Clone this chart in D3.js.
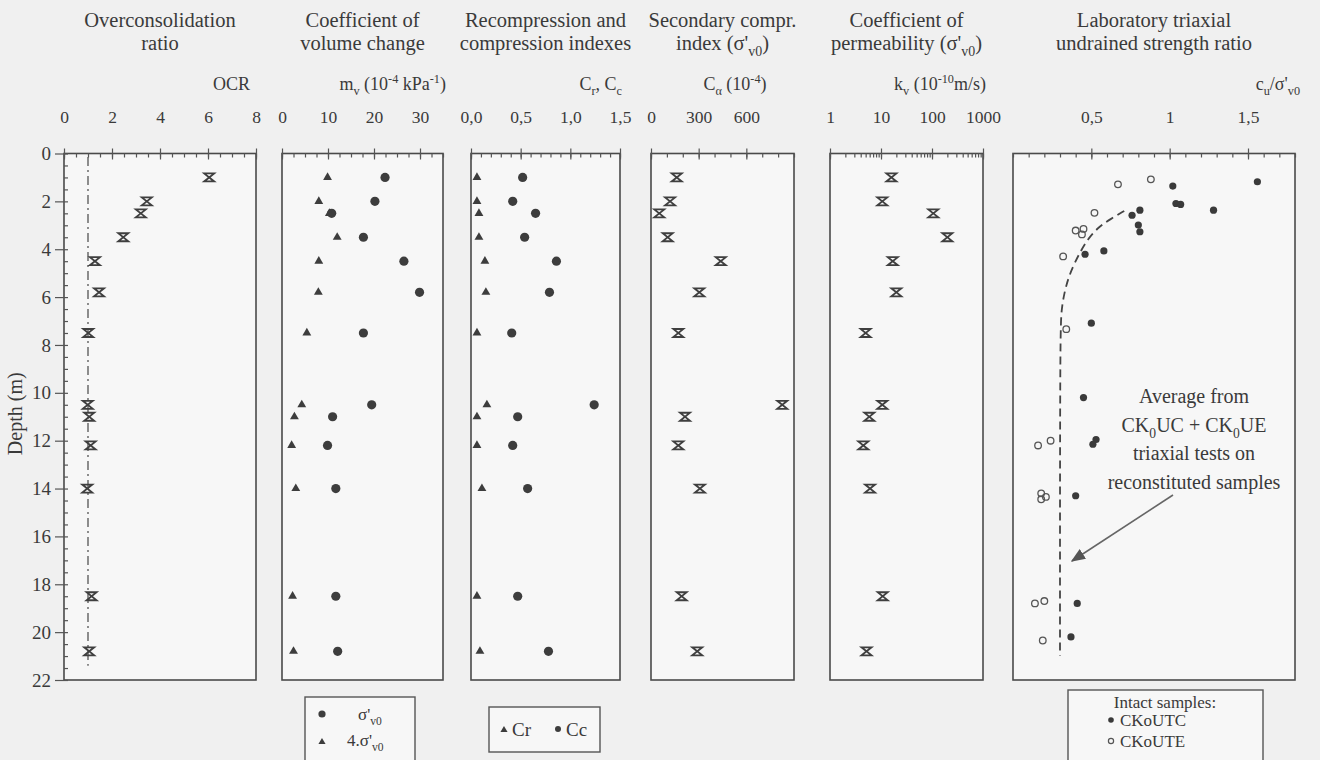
<!DOCTYPE html>
<html lang="en">
<head>
    <meta charset="UTF-8">
    <title>Soil profile</title>
    <script src="https://d3js.org/d3.v7.min.js"></script>
    <style>
        body {
            margin: 0;
            overflow: hidden;
            background-color: #f0f0f0;
        }
        svg text {
            font-family: "Liberation Serif", "Times New Roman", serif;
            fill: #3a3a3a;
        }
        .frame {
            fill: #f7f7f7;
            stroke: #4a4a4a;
            stroke-width: 1.6px;
        }
        .axis path { display: none; }
        .axis line { stroke: #555; stroke-width: 1.2px; }
        .mark { stroke: #3f3f3f; fill: none; stroke-width: 1.8px; }
    </style>
</head>
<body>
    <svg width="1320" height="760"></svg>
    <script>
        // depths (m) shared by the oedometer / index test samples
        const depths = [1.0, 2.0, 2.5, 3.5, 4.5, 5.8, 7.5, 10.5, 11.0, 12.2, 14.0, 18.5, 20.8];
        const ocr = [6.05, 3.45, 3.2, 2.47, 1.29, 1.46, 1.01, 0.99, 1.05, 1.11, 0.97, 1.15, 1.05];
        const mvSigma = [22.4, 20.2, 10.8, 17.7, 26.5, 29.9, 17.7, 19.5, 11.0, 9.9, 11.7, 11.7, 12.1];
        const mv4Sigma = [9.9, 8.0, 10.3, 12.0, 8.0, 7.9, 5.4, 4.3, 2.7, 2.1, 3.0, 2.3, 2.5];
        const cr = [0.06, 0.06, 0.08, 0.08, 0.14, 0.15, 0.06, 0.16, 0.06, 0.06, 0.11, 0.06, 0.09];
        const cc = [0.52, 0.42, 0.65, 0.54, 0.86, 0.79, 0.41, 1.24, 0.47, 0.42, 0.57, 0.47, 0.78];
        const calpha = [162, 120, 52, 105, 439, 304, 172, 826, 214, 172, 308, 193, 291];
        const kv = [16, 10.6, 106, 200, 17, 20, 5.0, 10.6, 5.9, 4.5, 6.1, 10.8, 5.2];

        // triaxial tests on intact samples
        const utcDepth = [1.18, 1.36, 2.09, 2.13, 2.37, 2.37, 2.58, 2.99, 3.27, 4.07, 4.21, 7.09, 10.2, 11.95, 12.15, 14.3, 18.8, 20.2];
        const utcRatio = [1.56, 1.02, 1.04, 1.07, 1.28, 0.81, 0.76, 0.80, 0.81, 0.58, 0.46, 0.50, 0.45, 0.53, 0.51, 0.40, 0.41, 0.37];
        const uteDepth = [1.08, 1.29, 2.48, 3.15, 3.22, 3.38, 4.3, 7.34, 12.0, 12.2, 14.2, 14.35, 14.45, 18.7, 18.8, 20.35];
        const uteRatio = [0.88, 0.67, 0.52, 0.45, 0.40, 0.44, 0.32, 0.34, 0.24, 0.16, 0.18, 0.21, 0.18, 0.20, 0.14, 0.19];
        // average from reconstituted samples
        const avgRatio = [0.71, 0.62, 0.55, 0.48, 0.43, 0.38, 0.34, 0.31, 0.30, 0.30];
        const avgDepth = [2.4, 2.75, 3.05, 3.55, 4.1, 4.75, 5.45, 6.4, 7.5, 21.0];
        const ocrLine = [[1, 0.15], [1, 21.4]];

        const depthTicks = d3.range(0, 23, 2);

        const svg = d3.select("svg");
        const y = d3.scaleLinear().domain([0, 22]).range([153.5, 680]);
        const comma = d => String(d).replace(".", ",");

        // append text made of [string, "sub"|"sup"|""] parts
        function rich(sel, parts, size) {
            let off = 0;
            parts.forEach(([s, k]) => {
                const target = k === "sub" ? size * 0.3 : k === "sup" ? -size * 0.4 : 0;
                sel.append("tspan")
                    .attr("dy", target - off)
                    .attr("font-size", k ? size * 0.68 : size)
                    .text(s);
                off = target;
            });
            return sel;
        }

        const panels = [
            { x0: 64, x1: 256, scale: d3.scaleLinear().domain([0, 8]), labels: [0, 2, 4, 6, 8], minor: d3.range(0, 8.01, 0.5), fmt: d => d,
              title: [[["Overconsolidation", ""]], [["ratio", ""]]], unit: [["OCR", ""]], unitX: 250, anchor: "end" },
            { x0: 282, x1: 443, scale: d3.scaleLinear().domain([0, 35]), labels: [0, 10, 20, 30], minor: d3.range(0, 35.1, 2.5), fmt: d => d,
              title: [[["Coefficient of", ""]], [["volume change", ""]]],
              unit: [["m", ""], ["v", "sub"], [" (10", ""], ["-4", "sup"], [" kPa", ""], ["-1", "sup"], [")", ""]], unitX: 446, anchor: "end" },
            { x0: 471, x1: 620, scale: d3.scaleLinear().domain([0, 1.5]), labels: [0, 0.5, 1, 1.5], minor: d3.range(0, 1.51, 0.1), fmt: d => d3.format(".1f")(d).replace(".", ","),
              title: [[["Recompression and", ""]], [["compression indexes", ""]]],
              unit: [["C", ""], ["r", "sub"], [", C", ""], ["c", "sub"]], unitX: 622, anchor: "end" },
            { x0: 651, x1: 794, scale: d3.scaleLinear().domain([0, 900]), labels: [0, 300, 600], minor: d3.range(0, 901, 100), fmt: d => d,
              title: [[["Secondary compr.", ""]], [["index (σ'", ""], ["v0", "sub"], [")", ""]]],
              unit: [["C", ""], ["α", "sub"], [" (10", ""], ["-4", "sup"], [")", ""]], unitX: 735, anchor: "middle" },
            { x0: 830, x1: 983, scale: d3.scaleLog().domain([1, 1000]), labels: [1, 10, 100, 1000], minor: d3.range(0, 3).flatMap(e => d3.range(1, 10).map(m => m * 10 ** e)).concat([1000]), fmt: d => d,
              title: [[["Coefficient of", ""]], [["permeability (σ'", ""], ["v0", "sub"], [")", ""]]],
              unit: [["k", ""], ["v", "sub"], [" (10", ""], ["-10", "sup"], ["m/s)", ""]], unitX: 940, anchor: "middle" },
            { x0: 1013, x1: 1295, scale: d3.scaleLinear().domain([0, 1.8]), labels: [0.5, 1, 1.5], minor: d3.range(0, 1.81, 0.1), fmt: comma,
              title: [[["Laboratory triaxial", ""]], [["undrained strength ratio", ""]]],
              unit: [["c", ""], ["u", "sub"], ["/σ'", ""], ["v0", "sub"]], unitX: 1300, anchor: "end" }
        ];

        panels.forEach(p => {
            p.scale.range([p.x0, p.x1]);
            const g = svg.append("g");
            g.append("rect").attr("class", "frame")
                .attr("x", p.x0).attr("y", y(0))
                .attr("width", p.x1 - p.x0).attr("height", y(22) - y(0));

            // titles
            const cx = (p.x0 + p.x1) / 2;
            p.title.forEach((line, i) => {
                rich(g.append("text").attr("x", cx).attr("y", 27 + i * 23)
                    .attr("text-anchor", "middle"), line, 20.5);
            });
            rich(g.append("text").attr("x", p.unitX).attr("y", 90)
                .attr("text-anchor", p.anchor), p.unit, 18);

            // tick labels
            g.append("g").attr("class", "axis")
                .attr("transform", "translate(0,123)")
                .call(d3.axisTop(p.scale).tickValues(p.labels).tickFormat(p.fmt).tickSize(0).tickPadding(0))
                .selectAll("text").attr("font-size", 17.5).attr("font-family", "Liberation Serif, serif").attr("fill", "#3a3a3a");

            // minor ticks inside, majors crossing the top edge
            g.append("g").attr("class", "axis")
                .attr("transform", `translate(0,${y(0)})`)
                .call(d3.axisBottom(p.scale).tickValues(p.minor).tickFormat("").tickSize(4));
            g.append("g").attr("class", "axis")
                .attr("transform", `translate(0,${y(0)})`)
                .call(d3.axisTop(p.scale).tickValues(p.labels).tickFormat("").tickSize(5))
                .call(a => a.selectAll("line").attr("y2", -5).attr("y1", 6));
        });

        // depth axis on the first panel
        const depthAxis = svg.append("g").attr("class", "axis")
            .attr("transform", `translate(${panels[0].x0},0)`)
            .call(d3.axisLeft(y).tickValues(depthTicks).tickSize(9).tickPadding(4));
        depthAxis.selectAll("text").attr("font-size", 19).attr("font-family", "Liberation Serif, serif").attr("fill", "#3a3a3a");
        svg.append("g").attr("class", "axis")
            .attr("transform", `translate(${panels[0].x0},0)`)
            .call(d3.axisRight(y).tickValues(d3.range(0, 22.01, 0.5)).tickFormat("").tickSize(4));

        svg.append("text")
            .attr("transform", `translate(22,${(y(0) + y(22)) / 2 - 3}) rotate(-90)`)
            .attr("text-anchor", "middle")
            .attr("font-size", 20)
            .text("Depth (m)");

        const bowtie = "M-5,-4H5L-5,4H5Z";
        const tri = d3.symbol().type(d3.symbolTriangle).size(34)();

        function plot(p, values, shape) {
            const g = svg.append("g");
            values.forEach((v, i) => {
                const px = p.scale(v), py = y(depths[i]);
                if (shape === "x") {
                    g.append("path").attr("class", "mark").attr("d", bowtie)
                        .attr("transform", `translate(${px},${py})`);
                } else if (shape === "dot") {
                    g.append("circle").attr("cx", px).attr("cy", py).attr("r", 4.6).attr("fill", "#3d3d3d");
                } else {
                    g.append("path").attr("d", tri).attr("fill", "#3d3d3d")
                        .attr("transform", `translate(${px},${py})`);
                }
            });
        }

        // OCR reference line
        svg.append("path")
            .attr("d", d3.line().x(d => panels[0].scale(d[0])).y(d => y(d[1]))(ocrLine))
            .attr("stroke", "#555").attr("stroke-width", 1.3).attr("fill", "none")
            .attr("stroke-dasharray", "9,4,2,4");

        plot(panels[0], ocr, "x");
        plot(panels[1], mvSigma, "dot");
        plot(panels[1], mv4Sigma, "tri");
        plot(panels[2], cc, "dot");
        plot(panels[2], cr, "tri");
        plot(panels[3], calpha, "x");
        plot(panels[4], kv, "x");

        // strength ratio panel
        const pc = panels[5];
        svg.append("path")
            .attr("d", d3.line().curve(d3.curveBasis).x(d => pc.scale(d[0])).y(d => y(d[1]))(d3.zip(avgRatio, avgDepth)))
            .attr("stroke", "#444").attr("stroke-width", 1.8).attr("fill", "none")
            .attr("stroke-dasharray", "8,5");
        svg.append("g").selectAll("circle").data(d3.zip(utcRatio, utcDepth)).join("circle")
            .attr("cx", d => pc.scale(d[0])).attr("cy", d => y(d[1])).attr("r", 3.6)
            .attr("fill", "#3a3a3a");
        svg.append("g").selectAll("circle").data(d3.zip(uteRatio, uteDepth)).join("circle")
            .attr("cx", d => pc.scale(d[0])).attr("cy", d => y(d[1])).attr("r", 3.3)
            .attr("fill", "none").attr("stroke", "#555").attr("stroke-width", 1.3);

        // annotation and arrow
        svg.append("defs").append("marker")
            .attr("id", "arr").attr("viewBox", "0 0 10 10").attr("refX", 9).attr("refY", 5)
            .attr("markerWidth", 9).attr("markerHeight", 9).attr("orient", "auto")
            .append("path").attr("d", "M0,1L10,5L0,9z").attr("fill", "#555");
        svg.append("line")
            .attr("x1", 1173).attr("y1", 495).attr("x2", 1072).attr("y2", 561)
            .attr("stroke", "#666").attr("stroke-width", 1.6).attr("marker-end", "url(#arr)");
        const note = [
            [["Average from", ""]],
            [["CK", ""], ["0", "sub"], ["UC + CK", ""], ["0", "sub"], ["UE", ""]],
            [["triaxial tests on", ""]],
            [["reconstituted samples", ""]]
        ];
        note.forEach((line, i) => {
            rich(svg.append("text").attr("x", 1194).attr("y", 403 + i * 28.5)
                .attr("text-anchor", "middle"), line, 20);
        });

        // legends
        const leg = svg.append("g");
        leg.append("rect").attr("x", 305).attr("y", 697).attr("width", 110).attr("height", 80)
            .attr("fill", "#f7f7f7").attr("stroke", "#555").attr("stroke-width", 1.4);
        leg.append("circle").attr("cx", 322).attr("cy", 714).attr("r", 3.6).attr("fill", "#3d3d3d");
        rich(leg.append("text").attr("x", 358).attr("y", 720), [["σ'", ""], ["v0", "sub"]], 17);
        leg.append("path").attr("d", d3.symbol().type(d3.symbolTriangle).size(22)()).attr("fill", "#3d3d3d")
            .attr("transform", "translate(322,742)");
        rich(leg.append("text").attr("x", 347).attr("y", 746), [["4.σ'", ""], ["v0", "sub"]], 17);

        leg.append("rect").attr("x", 489).attr("y", 707).attr("width", 111).attr("height", 45)
            .attr("fill", "#f7f7f7").attr("stroke", "#555").attr("stroke-width", 1.4);
        leg.append("path").attr("d", d3.symbol().type(d3.symbolTriangle).size(22)()).attr("fill", "#3d3d3d")
            .attr("transform", "translate(504,730)");
        leg.append("text").attr("x", 512).attr("y", 736).attr("font-size", 19).text("Cr");
        leg.append("circle").attr("cx", 558).attr("cy", 729).attr("r", 3).attr("fill", "#3d3d3d");
        leg.append("text").attr("x", 566).attr("y", 736).attr("font-size", 19).text("Cc");

        leg.append("rect").attr("x", 1068).attr("y", 690).attr("width", 195).attr("height", 90)
            .attr("fill", "#f7f7f7").attr("stroke", "#555").attr("stroke-width", 1.4);
        leg.append("text").attr("x", 1165).attr("y", 708).attr("text-anchor", "middle").attr("font-size", 17).text("Intact samples:");
        leg.append("circle").attr("cx", 1111).attr("cy", 720).attr("r", 2.8).attr("fill", "#3a3a3a");
        leg.append("text").attr("x", 1120).attr("y", 726).attr("font-size", 17).text("CKoUTC");
        leg.append("circle").attr("cx", 1111).attr("cy", 741).attr("r", 2.6).attr("fill", "none").attr("stroke", "#555").attr("stroke-width", 1.2);
        leg.append("text").attr("x", 1120).attr("y", 747).attr("font-size", 17).text("CKoUTE");
    </script>
</body>
</html>
